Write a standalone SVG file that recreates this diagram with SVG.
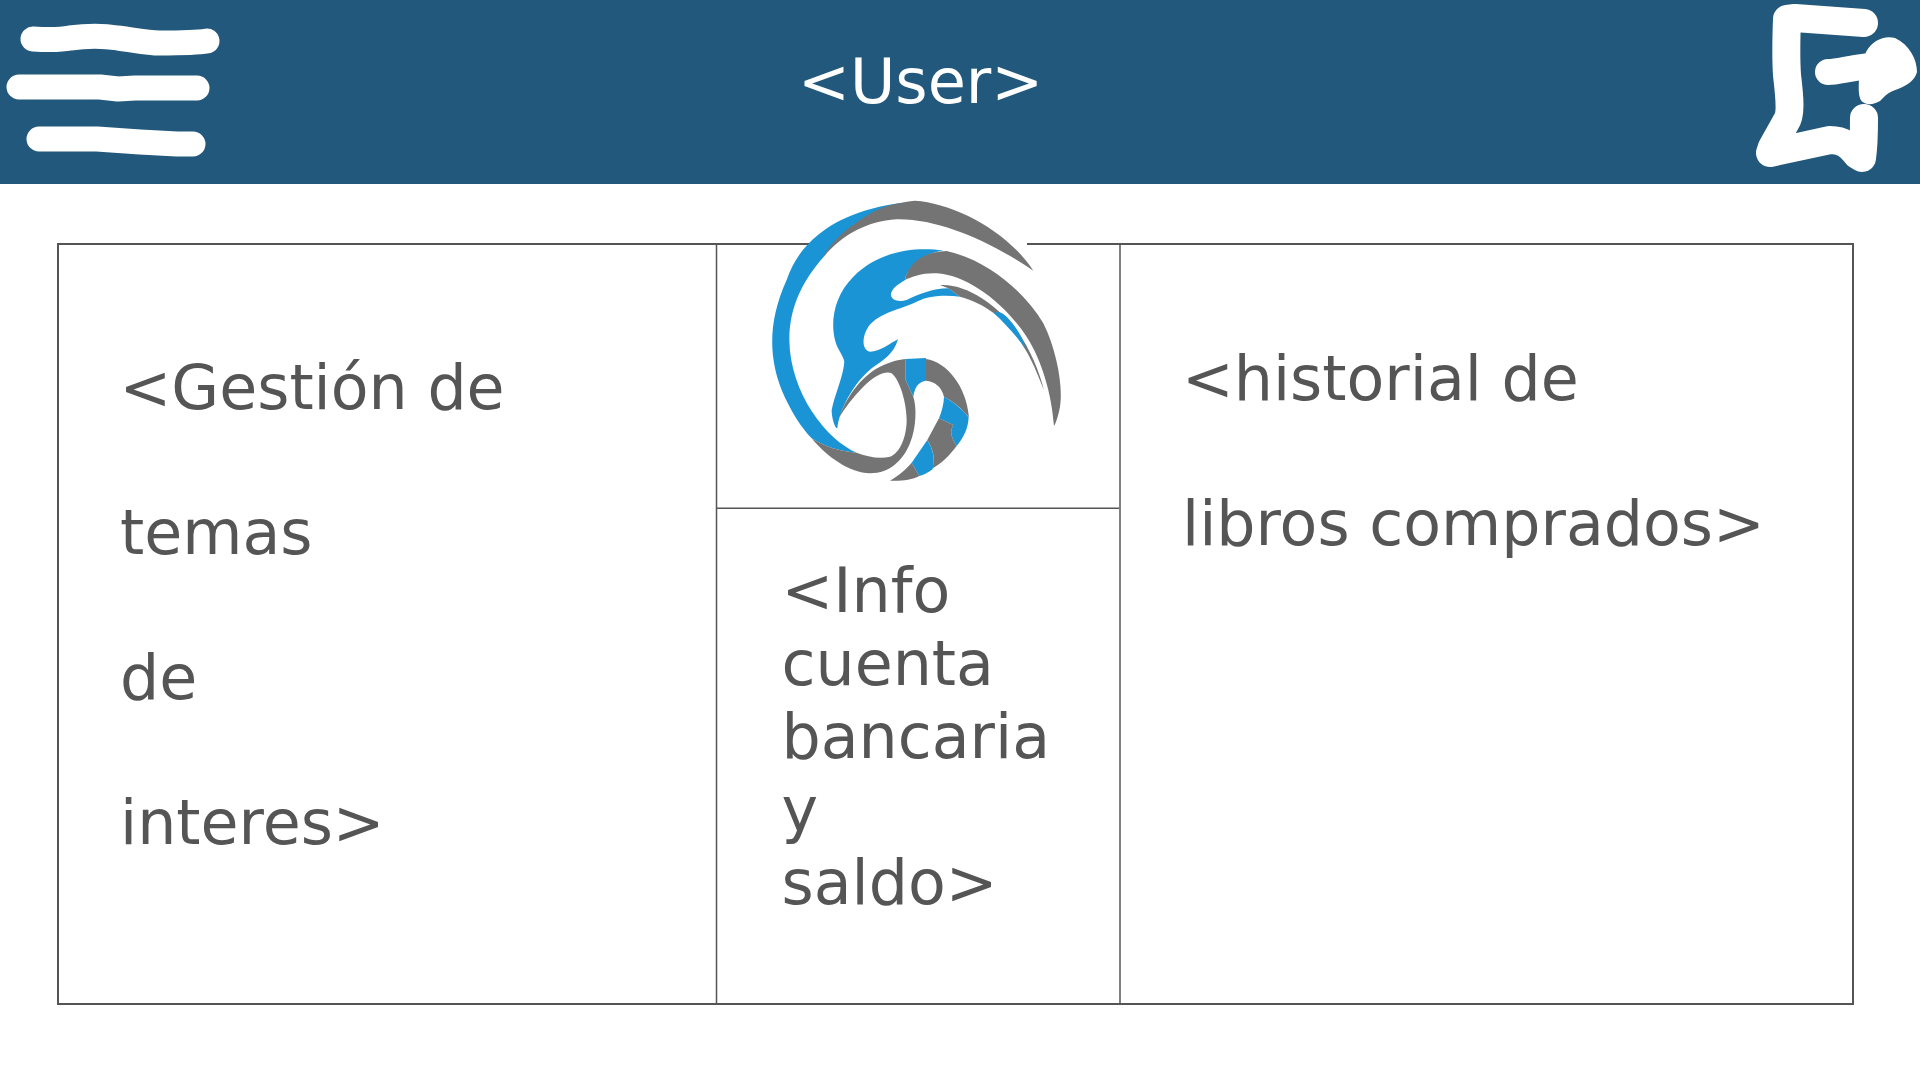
<svg xmlns="http://www.w3.org/2000/svg" width="1920" height="1080" viewBox="0 0 1920 1080">
<style>
text{font-family:"DejaVu Sans",sans-serif;font-size:61.800px;fill:#555}
.w{fill:none;stroke:#fff;stroke-linecap:round;stroke-linejoin:round}
.g{fill:#747474}.b{fill:#1a94d4}
.l{fill:none;stroke:#555;stroke-width:2}
.t{fill:none;stroke:#555;stroke-width:1.500}
</style>
<rect width="1920" height="1080" fill="#fff"/>
<g id="header"><rect width="1920" height="184" fill="#22587b"/>
<text x="798" y="103" style="fill:#fff;font-size:62px">&lt;User&gt;</text></g>
<g id="menu-icon" class="w" stroke-width="25">
<path d="M33 39C50 40 60 40 70 38C85 36 105 36 118 38C135 40 145 43 160 43C175 43 195 43 207 41"/>
<path d="M19 87L30 87H100L118 89L135 88L197 88"/>
<path d="M39 139H97L140 142L177 144H193"/>
</g>
<g id="exit-icon">
<path class="w" stroke-width="28" d="M1864 23L1795 18L1787 19C1786 45 1786 60 1787 75C1790 100 1791 115 1786 122L1772 147L1770 153L1830 140C1845 140 1850 147 1857 155L1862 158C1864 145 1864 125 1864 118"/>
<path class="w" stroke-width="26" d="M1828 72C1840 72 1855 66 1885 65"/>
<path fill="#fff" d="M1866 52C1872 40 1885 35 1895 38C1910 45 1917 60 1917 72C1915 80 1908 85 1898 89C1888 92 1885 96 1880 101C1872 106 1862 105 1860 98C1858 92 1859 85 1859 75Z"/>
</g>
<g id="table">
<rect x="58" y="244" width="1795" height="760" class="l"/>
<path d="M716.500 244V1004M717 508.300H1119" class="t"/>
<path d="M1120 244V1004" class="t" />
</g>
<g id="logo">
<rect x="810" y="200" width="217" height="285" fill="#fff"/>
<g transform="translate(740 180) scale(.3333)">
<path class="b" d="M490 68C340 85 190 150 140 300C85 420 85 530 125 630C150 690 185 745 215 775C255 800 300 815 350 818C260 780 150 640 148 480C148 380 190 300 250 232C290 170 400 95 490 68Z"/>
<path class="g" d="M250 232C270 190 320 140 400 95C440 75 490 65 525 62C640 70 800 150 880 272C760 190 600 115 470 118C380 122 300 170 250 232Z"/>
<path class="b" d="M610 212C530 200 420 210 340 290C285 345 270 420 285 480C292 510 310 525 313 545C310 590 285 640 275 690C275 715 285 745 292 745C298 690 340 610 395 565C430 540 460 525 474 478C450 490 420 515 390 515C365 510 365 470 385 440C420 395 480 390 530 365C570 345 620 345 660 350L625 325C580 325 530 345 500 360C470 370 445 355 455 335C465 315 490 305 495 300C500 260 560 215 610 212Z"/>
<path class="g" d="M495 300C505 250 550 215 620 213C740 240 850 330 910 430C950 510 970 620 960 680C955 710 945 735 942 738C935 640 905 540 860 470C790 365 680 285 590 280C550 278 515 290 495 300Z"/>
<path class="g" d="M600 315C680 310 770 375 830 450C870 505 900 580 912 630C890 575 875 540 857 510C830 465 800 425 762 400C730 375 695 360 660 350L625 325Z"/>
<path class="b" d="M762 400C770 392 785 395 800 410C825 435 850 475 857 505C830 470 795 430 762 400Z"/>
<path class="g" d="M298 712C315 660 360 590 420 560C450 545 480 538 497 537V600L520 650C530 680 530 740 510 790C490 840 450 880 390 880C330 880 260 830 215 775C255 800 300 815 350 818C380 830 420 838 450 830C480 820 500 770 500 720C500 670 480 600 455 580C435 570 400 590 370 620C340 650 310 690 298 712Z"/>
<path class="b" d="M497 537L558 534V602C540 605 525 615 520 650L497 600Z"/>
<path class="g" d="M558 537C620 545 680 620 687 712C660 680 640 665 612 650C605 620 585 605 558 602Z"/>
<path class="b" d="M612 650C640 665 670 690 686 712C685 745 670 775 650 798C640 780 625 760 640 735L597 715C605 695 612 670 612 650Z"/>
<path class="g" d="M597 715L640 735C625 760 640 780 650 798C630 825 605 850 578 865C585 830 580 810 562 780Z"/>
<path class="b" d="M562 780C580 810 585 835 578 868C565 878 550 885 538 888L515 848Z"/>
<path class="g" d="M515 848L538 888C515 900 480 904 450 902C480 885 500 865 515 848Z"/>
</g></g>
<g id="interests"><text x="119.500" y="409">&lt;Gestión de</text><text x="120" y="554">temas</text><text x="120" y="699">de</text><text x="120" y="844">interes&gt;</text></g>
<g id="account"><text x="781.500" y="612">&lt;Info</text><text x="781.500" y="685">cuenta</text><text x="781.500" y="758">bancaria</text><text x="781.500" y="831">y</text><text x="781.500" y="904">saldo&gt;</text></g>
<g id="history"><text x="1182" y="400">&lt;historial de</text><text x="1182" y="545">libros comprados&gt;</text></g>
</svg>
